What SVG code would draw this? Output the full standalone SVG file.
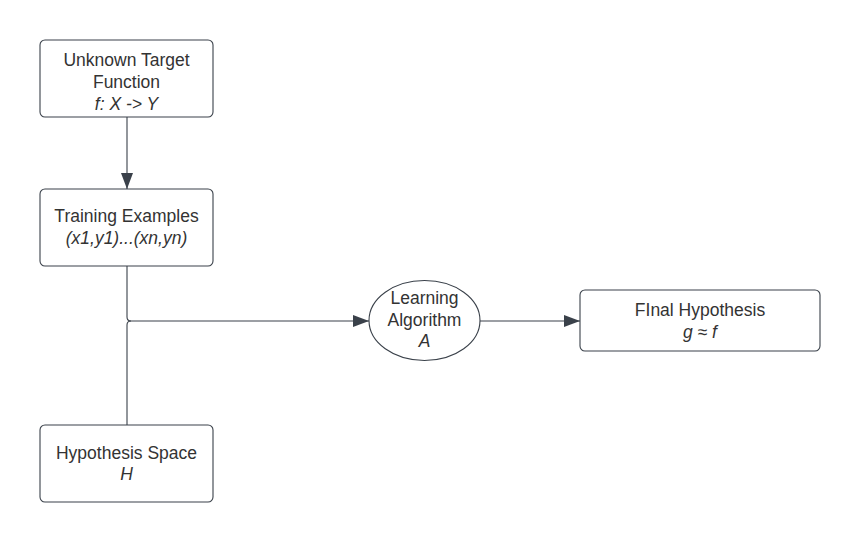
<svg xmlns="http://www.w3.org/2000/svg" width="860" height="542" viewBox="0 0 860 542">
<defs>
<style>
.box{fill:#ffffff;stroke:#3a414a;stroke-width:1.1}
.ln{fill:none;stroke:#3a414a;stroke-width:1.1}
text{font-family:"Liberation Sans",Arial,sans-serif;font-size:17.5px;fill:#333333;text-anchor:middle}
.it{font-style:italic}
</style>
<marker id="arr" viewBox="0 0 16 12" refX="16" refY="6" markerWidth="16" markerHeight="12" markerUnits="userSpaceOnUse" orient="auto">
<path d="M0,0 L16,6 L0,12 Z" fill="#3a414a"/>
</marker>
</defs>
<rect width="860" height="542" fill="#ffffff"/>
<g id="connectors">
<path class="ln" d="M127,117 L127,189" marker-end="url(#arr)"/>
<path class="ln" d="M127,266 L127,317 Q127,321 131,321 L369,321" marker-end="url(#arr)"/>
<path class="ln" d="M127,425 L127,325 Q127,321 131,321"/>
<path class="ln" d="M480,321 L580,321" marker-end="url(#arr)"/>
</g>
<g id="target">
<rect class="box" x="40" y="40" width="173" height="77" rx="5"/>
<text x="126.5" y="66">Unknown Target</text>
<text x="126.5" y="88">Function</text>
<text class="it" x="126.5" y="110">f: X -&gt; Y</text>
</g>
<g id="training">
<rect class="box" x="40" y="189" width="173" height="77" rx="5"/>
<text x="126.5" y="222">Training Examples</text>
<text class="it" x="126.5" y="244">(x1,y1)...(xn,yn)</text>
</g>
<g id="hypothesis-space">
<rect class="box" x="40" y="425" width="173" height="77" rx="5"/>
<text x="126.5" y="459">Hypothesis Space</text>
<text class="it" x="126.5" y="480">H</text>
</g>
<g id="algorithm">
<ellipse class="box" cx="424.5" cy="320.5" rx="55.5" ry="40"/>
<text x="424.5" y="304">Learning</text>
<text x="424.5" y="326">Algorithm</text>
<text class="it" x="424.5" y="347">A</text>
</g>
<g id="final">
<rect class="box" x="580" y="290" width="240" height="61" rx="5"/>
<text x="700" y="316">FInal Hypothesis</text>
<text class="it" x="700" y="338">g ≈ f</text>
</g>
</svg>
